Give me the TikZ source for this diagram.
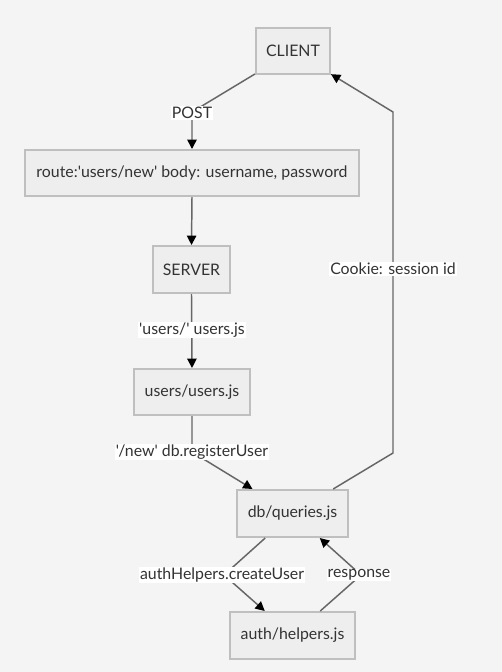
\documentclass[tikz,border=0pt]{standalone}
\usepackage{fontspec}
\setmainfont{Lato}[Ligatures=TeXOff]
\usetikzlibrary{arrows.meta}
\definecolor{bgc}{HTML}{F4F4F4}
\definecolor{boxfill}{HTML}{EEEEEE}
\definecolor{boxdraw}{HTML}{BFBFBF}
\definecolor{txt}{HTML}{333333}
\definecolor{edgec}{HTML}{666666}
\tikzset{
  box/.style={draw=boxdraw, fill=boxfill, line width=1.5pt, text=txt, font=\fontsize{11.9pt}{13pt}\selectfont, inner sep=0pt, anchor=center},
  lbl/.style={fill=white, text=txt, font=\fontsize{11.9pt}{13pt}\selectfont, inner sep=0.6pt},
  conn/.style={draw=edgec, line width=1.1pt, -{Triangle[length=7pt,width=7pt,color=black]}},
}
\begin{document}
\begin{tikzpicture}[x=0.75pt,y=-0.75pt]
\useasboundingbox[fill=bgc] (0,0) rectangle (502,672);
\node[box, minimum width=55.5pt, minimum height=34.5pt] (client) at (293,51) {CLIENT};
\node[box, minimum width=250.5pt, minimum height=34.5pt] (route) at (192,173) {route:'users/new' body: username, password};
\node[box, minimum width=57.75pt, minimum height=35.25pt] (server) at (191.5,269.5) {SERVER};
\node[box, minimum width=87pt, minimum height=34.5pt] (users) at (192,392) {users/users.js};
\node[box, minimum width=83.25pt, minimum height=35.25pt] (db) at (292.5,513.5) {db/queries.js};
\node[box, minimum width=93.75pt, minimum height=35.25pt] (auth) at (292.5,635.5) {auth/helpers.js};

\coordinate (b1) at (192,112);
\coordinate (b2) at (192,452);
\coordinate (b3) at (393,453);
\coordinate (b4) at (393,112);
\coordinate (b5) at (224,575);
\coordinate (b6) at (361,575);

\draw[conn] (client) -- (b1) -- (route.north);
\draw[conn] (route.south) -- (server.north);
\draw[conn] (server.south) -- (users.north);
\draw[conn] (users.south) -- (b2) -- (db);
\draw[conn] (db) -- (b3) -- (b4) -- (client);
\draw[conn] (db) -- (b5) -- (auth);
\draw[conn] (auth) -- (b6) -- (db);

\node[lbl] (l1) at (192,113) {POST};
\node[lbl] (l2) at (192,330) {'users/' users.js};
\node[lbl] (l3) at (192,452) {'/new' db.registerUser};
\node[lbl] (l4) at (393,269) {Cookie: session id};
\node[lbl] (l5) at (222,575) {authHelpers.createUser};
\node[lbl] (l6) at (359,575) {response};
\end{tikzpicture}
\end{document}
